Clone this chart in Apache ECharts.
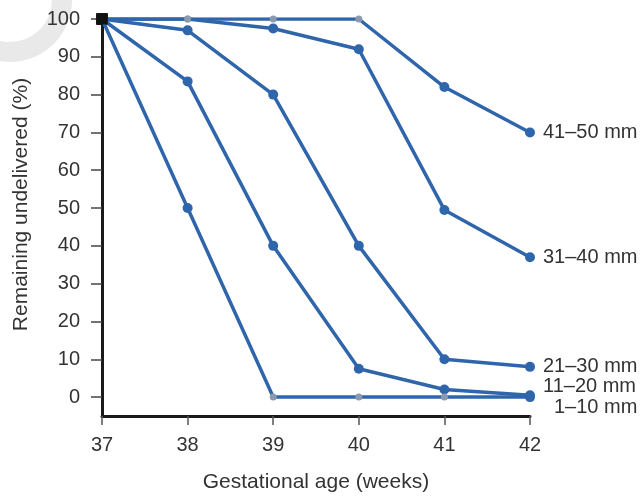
<!DOCTYPE html>
<html>
<head>
<meta charset="utf-8">
<script src="https://cdn.jsdelivr.net/npm/echarts@6/dist/echarts.min.js"></script>
<style>
  html, body { margin: 0; padding: 0; background: #ffffff; }
  #chart { width: 643px; height: 498px; }
</style>
</head>
<body>
<div id="chart"></div>
<script>
// Gestational age in weeks (x axis)
const weeks = [37, 38, 39, 40, 41, 42];

// Percentage of pregnancies still undelivered, by size group
const groupNames = ['41–50 mm', '31–40 mm', '21–30 mm', '11–20 mm', '1–10 mm'];
const g41to50 = [100, 100, 100, 100, 82, 70];
const g31to40 = [100, 100, 97.5, 92, 49.5, 37];
const g21to30 = [100, 97, 80, 40, 10, 8];
const g11to20 = [100, 83.5, 40, 7.5, 2, 0.5];
const g1to10  = [100, 50, 0, 0, 0, 0];

// Y tick values
const yTicks = [0, 10, 20, 30, 40, 50, 60, 70, 80, 90, 100];

const groups = [g41to50, g31to40, g21to30, g11to20, g1to10];

const blue = '#2f65ab';
const ink = '#333333';
const font = 'Liberation Sans, Arial, sans-serif';

// end-of-line label nudges so the two lowest names do not collide
const labelOffsets = [[0, 0], [0, 0], [0, 0], [0, -9], [11, 10]];

const series = groups.map((vals, gi) => ({
  name: groupNames[gi],
  type: 'line',
  symbol: 'circle',
  symbolSize: 10,
  lineStyle: { color: blue, width: 3.5 },
  itemStyle: { color: blue },
  z: 2 + gi,
  data: vals.map((v, i) => {
    const d = { value: [weeks[i], v] };
    const last = vals.length - 1;
    if (i === 0) {
      d.symbol = 'rect';
      d.symbolSize = 11;
      d.itemStyle = { color: '#111111' };
    } else if (i < last && (v === 100 || v === 0)) {
      // plateau points are drawn as small faint dots
      d.symbolSize = 7;
      d.itemStyle = { color: '#8b9ab0' };
    }
    if (i === last) {
      d.label = {
        show: true,
        position: 'right',
        distance: 8,
        offset: labelOffsets[gi],
        formatter: groupNames[gi],
        color: ink,
        fontFamily: font,
        fontSize: 20
      };
    }
    return d;
  })
}));

const chart = echarts.init(document.getElementById('chart'), null, { renderer: 'canvas' });
chart.setOption({
  backgroundColor: '#ffffff',
  animation: false,
  graphic: [{
    type: 'ring',
    shape: { cx: 10, cy: 0, r: 62, r0: 42 },
    style: { fill: '#e9e9e9' },
    z: -10
  }],
  grid: { left: 102, right: 113, top: 19, bottom: 78, containLabel: false },
  xAxis: {
    type: 'value',
    min: 37,
    max: 42,
    interval: 1,
    name: 'Gestational age (weeks)',
    nameLocation: 'middle',
    nameGap: 56,
    nameTextStyle: { color: ink, fontFamily: font, fontSize: 21 },
    axisLine: { onZero: false, lineStyle: { color: '#1a1a1a', width: 3 } },
    axisTick: { show: true, length: 9, lineStyle: { color: '#555555', width: 1.5 } },
    axisLabel: { color: ink, fontFamily: font, fontSize: 20, margin: 19 },
    splitLine: { show: false }
  },
  yAxis: {
    type: 'value',
    min: -5,
    max: 100,
    name: 'Remaining undelivered (%)',
    nameLocation: 'middle',
    nameGap: 70,
    nameTextStyle: { color: ink, fontFamily: font, fontSize: 21, padding: [0, 0, 0, 26] },
    axisLine: { show: true, onZero: false, lineStyle: { color: '#1a1a1a', width: 3 } },
    axisTick: { show: true, length: 11, customValues: yTicks, lineStyle: { color: '#444444', width: 1.5 } },
    axisLabel: { color: ink, fontFamily: font, fontSize: 20, margin: 22, customValues: yTicks },
    splitLine: { show: false }
  },
  series: series
});
</script>
</body>
</html>
